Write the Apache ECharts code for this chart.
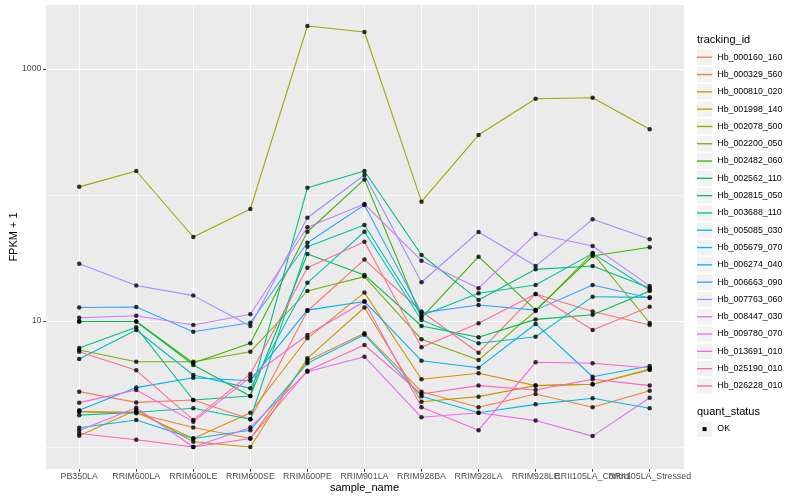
<!DOCTYPE html>
<html><head><meta charset="utf-8">
<script src="https://cdn.jsdelivr.net/npm/echarts@6/dist/echarts.min.js"></script>
<style>html,body{margin:0;padding:0;background:#fff}#c{width:800px;height:500px}</style>
</head><body><div id="c"></div>
<script>
// ---- data ----
const categories = ['PB350LA','RRIM600LA','RRIM600LE','RRIM600SE','RRIM600PE','RRIM901LA','RRIM928BA','RRIM928LA','RRIM928LE','RRII105LA_Control','RRII105LA_Stressed'];
const trackingIds = ['Hb_000160_160','Hb_000329_560','Hb_000810_020','Hb_001998_140','Hb_002078_500','Hb_002200_050','Hb_002482_060','Hb_002562_110','Hb_002815_050','Hb_003688_110','Hb_005085_030','Hb_005679_070','Hb_006274_040','Hb_006663_090','Hb_007763_060','Hb_008447_030','Hb_009780_070','Hb_013691_010','Hb_025190_010','Hb_026228_010'];
const Hb_000160_160 = [2.75,2.26,2.36,1.66,12.0,30.7,11.9,5.60,16.4,11.9,9.30];
const Hb_000329_560 = [1.91,1.85,1.43,1.17,4.84,7.99,2.75,2.07,2.63,2.07,2.80];
const Hb_000810_020 = [1.91,1.89,1.17,1.87,7.29,16.8,3.45,3.85,3.07,3.15,4.09];
const Hb_001998_140 = [1.23,1.97,1.10,1.00,5.06,12.8,2.29,2.51,3.07,3.15,4.16];
const Hb_002078_500 = [116,155,46.4,77.4,2194,1966,88.5,299,581,592,332];
const Hb_002200_050 = [5.89,4.75,4.75,5.71,17.3,22.5,7.16,4.90,12.0,34.6,9.64];
const Hb_002482_060 = [9.91,9.91,4.64,6.65,51.1,133,10.6,32.4,12.2,32.8,38.5];
const Hb_002562_110 = [9.91,9.91,4.48,2.54,34.0,23.2,9.13,7.42,10.3,11.2,17.3];
const Hb_002815_050 = [6.11,8.91,2.36,2.54,114,155,33.4,14.7,25.7,27.3,18.3];
const Hb_003688_110 = [1.79,1.89,2.03,1.66,38.9,57.8,11.0,16.6,19.3,34.4,17.6];
const Hb_005085_030 = [4.99,8.48,3.73,2.92,20.1,51.1,10.2,6.65,7.50,15.6,15.4];
const Hb_005679_070 = [1.42,1.64,1.17,1.36,4.62,7.79,2.53,1.87,2.18,2.44,2.03];
const Hb_006274_040 = [1.96,2.96,3.55,3.36,12.2,14.3,4.84,4.26,9.47,3.61,4.39];
const Hb_006663_090 = [12.8,12.9,8.22,9.69,41.8,83.3,11.6,13.4,12.2,19.3,15.2];
const Hb_007763_060 = [28.5,19.1,15.9,9.13,66.0,144,20.3,50.9,27.3,64.1,44.5];
const Hb_008447_030 = [10.6,11.0,9.30,11.3,55.4,84.8,30.1,18.2,49.0,39.4,19.0];
const Hb_009780_070 = [1.35,2.05,1.00,1.43,3.96,5.21,1.72,1.87,1.62,1.22,2.46];
const Hb_013691_010 = [2.25,2.83,1.59,3.57,7.74,14.3,2.07,1.36,4.70,4.62,4.24];
const Hb_025190_010 = [1.28,1.14,1.00,1.17,4.03,6.45,2.63,3.07,2.83,3.45,3.07];
const Hb_026228_010 = [5.71,4.06,1.64,3.80,26.5,42.6,6.18,9.59,16.4,8.48,13.0];
const seriesValues = [Hb_000160_160,Hb_000329_560,Hb_000810_020,Hb_001998_140,Hb_002078_500,Hb_002200_050,Hb_002482_060,Hb_002562_110,Hb_002815_050,Hb_003688_110,Hb_005085_030,Hb_005679_070,Hb_006274_040,Hb_006663_090,Hb_007763_060,Hb_008447_030,Hb_009780_070,Hb_013691_010,Hb_025190_010,Hb_026228_010];
const yTickLabels = [10, 1000];
const quantStatus = ['OK'];

// ---- style ----
const colors = ['#F8766D','#EA8331','#D89000','#C09B00','#A3A500','#7CAE00','#39B600','#00BB4E','#00BF7D','#00C1A3','#00BFC4','#00BAE0','#00B0F6','#35A2FF','#9590FF','#C77CFF','#E76BF3','#FA62DB','#FF62BC','#FF6C91'];
const FONT = '"Liberation Sans", Arial, Helvetica, sans-serif';
const yMin = 0.669, yMax = 3220;

const chart = echarts.init(document.getElementById('c'));

const lineSeries = trackingIds.map((id, i) => ({
  type: 'line', name: id, xAxisIndex: 1, yAxisIndex: 3,
  data: seriesValues[i], symbol: 'none', silent: true, z: 2,
  lineStyle: { color: colors[i], width: 1.07 }, itemStyle: { color: colors[i] }
}));
const pointData = [];
seriesValues.forEach(vals => vals.forEach((v, j) => pointData.push([categories[j], v])));

const legendGeom = { orient: 'vertical', left: 697, top: 49.6, padding: 0, itemWidth: 15.3, itemHeight: 15.3, itemGap: 2, selectedMode: false };
const linePath = 'path://M0,0L0,0M16,16L16,16M0,7.3H16V8.7H0Z';
const logAxisBase = { type: 'log', logBase: 10, min: yMin, max: yMax };

chart.setOption({
  animation: false,
  backgroundColor: '#fff',
  textStyle: { fontFamily: FONT },
  grid: [
    { left: 45, top: 5, width: 639, height: 464, show: true, backgroundColor: '#EBEBEB', borderWidth: 0 },
    { left: 79.2, top: 5, width: 570.5, height: 464 }
  ],
  xAxis: [
    { gridIndex: 0, type: 'value', show: false, min: 0, max: 1 },
    { gridIndex: 1, type: 'category', data: categories, boundaryGap: false,
      axisLine: { show: false },
      axisTick: { show: true, length: 2.7, alignWithLabel: true, lineStyle: { color: '#333', width: 1 } },
      axisLabel: { interval: 0, color: '#4D4D4D', fontSize: 8.8, fontFamily: FONT, margin: 3.5, verticalAlign: 'top', hideOverlap: false },
      splitLine: { show: true, lineStyle: { color: '#fff', width: 1.07 } },
      name: 'sample_name', nameLocation: 'middle', nameGap: 13.5, nameMoveOverlap: false,
      nameTextStyle: { color: '#000', fontSize: 11, fontFamily: FONT, verticalAlign: 'top' } }
  ],
  yAxis: [
    Object.assign({ gridIndex: 0 }, logAxisBase, {
      axisLine: { show: false },
      axisTick: { show: true, customValues: yTickLabels, length: 2.7, lineStyle: { color: '#333', width: 1 } },
      axisLabel: { customValues: yTickLabels, formatter: v => String(v), color: '#4D4D4D', fontSize: 8.8, fontFamily: FONT, margin: 4.5 },
      splitLine: { show: false },
      name: 'FPKM + 1', nameLocation: 'middle', nameGap: 27, nameRotate: 90, nameMoveOverlap: false,
      nameTextStyle: { color: '#000', fontSize: 11, fontFamily: FONT } }),
    Object.assign({ gridIndex: 0 }, logAxisBase, {
      axisLine: { show: false }, axisTick: { show: false }, axisLabel: { show: false },
      splitLine: { show: true, showMinLine: false, showMaxLine: false, lineStyle: { color: '#fff', width: 0.6 } } }),
    Object.assign({ gridIndex: 0 }, logAxisBase, {
      axisLine: { show: false }, axisTick: { show: false }, axisLabel: { show: false },
      splitLine: { show: true, showMinLine: false, showMaxLine: false, lineStyle: { color: ['rgba(255,255,255,0)', '#fff'], width: 1.07 } } }),
    Object.assign({ gridIndex: 1 }, logAxisBase, { show: false })
  ],
  legend: [
    Object.assign({}, legendGeom, { data: trackingIds, icon: 'rect', itemStyle: { color: '#F2F2F2' },
      textStyle: { color: 'rgba(0,0,0,0)', fontSize: 8.8, fontFamily: FONT }, z: 4 }),
    Object.assign({}, legendGeom, { data: trackingIds.map((id, i) => ({ name: id, icon: linePath, itemStyle: { color: colors[i] } })),
      textStyle: { color: '#000', fontSize: 8.8, fontFamily: FONT }, z: 5 })
  ],
  graphic: [
    { type: 'text', left: 697, top: 34, style: { text: 'tracking_id', fontSize: 11, fontFamily: FONT, fill: '#000' } },
    { type: 'text', left: 697, top: 406.5, style: { text: 'quant_status', fontSize: 11, fontFamily: FONT, fill: '#000' } },
    { type: 'rect', left: 697, top: 421.5, shape: { width: 15.3, height: 15.3 }, style: { fill: '#F2F2F2' } },
    { type: 'rect', left: 702.6, top: 427.1, shape: { width: 4, height: 4 }, style: { fill: '#000' } },
    { type: 'text', left: 717.3, top: 424.5, style: { text: quantStatus[0], fontSize: 8.8, fontFamily: FONT, fill: '#000' } }
  ],
  series: lineSeries.concat([{
    type: 'scatter', name: quantStatus[0], xAxisIndex: 1, yAxisIndex: 3, data: pointData,
    symbol: 'circle', symbolSize: 4.5, itemStyle: { color: '#000' }, z: 5, silent: true
  }])
});
</script></body></html>
